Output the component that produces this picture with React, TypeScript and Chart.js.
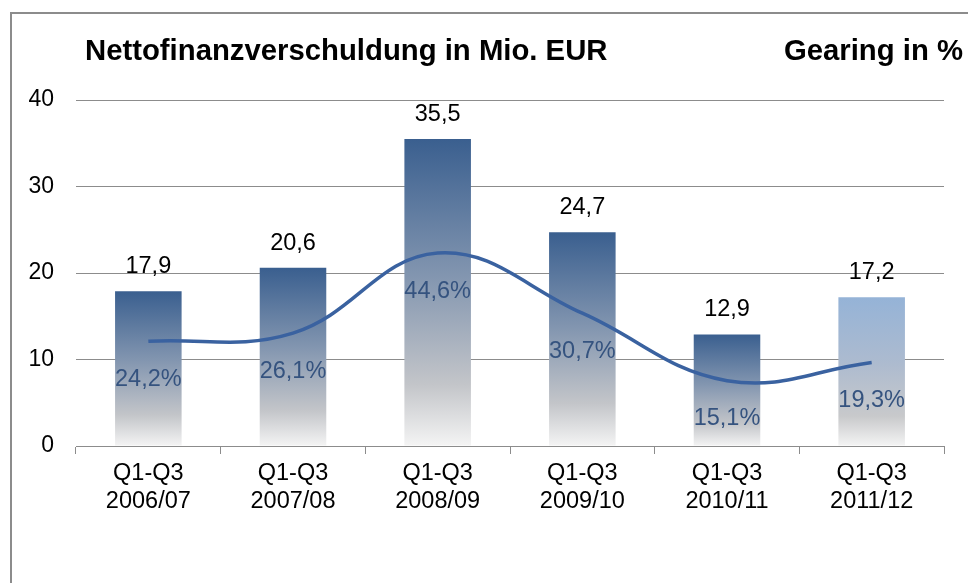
import React, { useEffect, useRef } from "react";
import { Chart, registerables } from "chart.js";

Chart.register(...registerables);

const categories: string[][] = [
  ["Q1-Q3", "2006/07"],
  ["Q1-Q3", "2007/08"],
  ["Q1-Q3", "2008/09"],
  ["Q1-Q3", "2009/10"],
  ["Q1-Q3", "2010/11"],
  ["Q1-Q3", "2011/12"],
];
const debtMioEur: number[] = [17.9, 20.6, 35.5, 24.7, 12.9, 17.2];
const gearingPct: number[] = [24.2, 26.1, 44.6, 30.7, 15.1, 19.3];
const yTicks: number[] = [0, 10, 20, 30, 40];
const leftTitle = "Nettofinanzverschuldung in Mio. EUR";
const rightTitle = "Gearing in %";

const FONT = "'Liberation Sans', Arial, sans-serif";

const fmt = (v: number) => v.toFixed(1).replace(".", ",");

const labelPlugin = {
  id: "valueLabels",
  afterDatasetsDraw(chart: any) {
    const ctx = chart.ctx;
    ctx.save();
    const barMeta = chart.getDatasetMeta(0);
    ctx.font = `23.5px ${FONT}`;
    ctx.textAlign = "center";
    ctx.textBaseline = "bottom";
    ctx.fillStyle = "#000000";
    barMeta.data.forEach((el: any, i: number) => {
      ctx.fillText(fmt(debtMioEur[i]), el.x, el.y - 13);
    });
    const lineMeta = chart.getDatasetMeta(1);
    ctx.fillStyle = "#35537f";
    ctx.textBaseline = "middle";
    lineMeta.data.forEach((el: any, i: number) => {
      ctx.fillText(fmt(gearingPct[i]) + "%", el.x, el.y + 38);
    });
    ctx.restore();
  },
};

export default function App() {
  const ref = useRef<HTMLCanvasElement | null>(null);

  useEffect(() => {
    if (!ref.current) return;
    const chart = new Chart(ref.current, {
      type: "bar",
      data: {
        labels: categories,
        datasets: [
          {
            type: "bar",
            data: debtMioEur,
            yAxisID: "y",
            order: 1,
            categoryPercentage: 1,
            barPercentage: 0.46,
            borderWidth: 0,
            backgroundColor: (c: any) => {
              const ch = c.chart;
              const sc = ch.scales && ch.scales.y;
              if (!ch.chartArea || !sc || c.type !== "data") return "#3a5f8f";
              const top = sc.getPixelForValue(debtMioEur[c.dataIndex]);
              const bot = sc.getPixelForValue(0);
              const g = ch.ctx.createLinearGradient(0, top, 0, bot);
              if (c.dataIndex === debtMioEur.length - 1) {
                g.addColorStop(0, "#95b3d7");
                g.addColorStop(0.45, "#adbbcf");
                g.addColorStop(0.8, "#c8c9cb");
                g.addColorStop(1, "#f4f4f4");
              } else {
                g.addColorStop(0, "#3a5f8f");
                g.addColorStop(0.45, "#8396b0");
                g.addColorStop(0.8, "#c3c5c9");
                g.addColorStop(1, "#f4f4f4");
              }
              return g;
            },
          },
          {
            type: "line",
            data: gearingPct,
            yAxisID: "y2",
            order: 0,
            borderColor: "#3a62a0",
            borderWidth: 3.5,
            pointRadius: 0,
            tension: 0.4,
            fill: false,
          },
        ] as any,
      },
      options: {
        animation: false,
        responsive: false,
        maintainAspectRatio: false,
        layout: { padding: { top: 100, right: 24, bottom: 0, left: 0 } },
        plugins: {
          legend: { display: false },
          tooltip: { enabled: false },
          title: { display: false },
        },
        scales: {
          x: {
            afterFit: (s: any) => {
              s.height = 137;
            },
            grid: {
              offset: true,
              drawOnChartArea: false,
              drawTicks: true,
              tickLength: 8,
              color: "#8c8c8c",
            },
            border: { color: "#8c8c8c" },
            ticks: {
              color: "#000000",
              padding: 5,
              maxRotation: 0,
              font: { family: FONT, size: 23.5, lineHeight: 1.2 },
            },
          },
          y: {
            min: 0,
            max: 40,
            afterFit: (s: any) => {
              s.width = 76;
            },
            afterBuildTicks: (s: any) => {
              s.ticks = yTicks.map((v) => ({ value: v }));
            },
            grid: { color: "#8c8c8c", drawTicks: false },
            border: { display: false },
            ticks: {
              color: "#000000",
              padding: 22,
              font: { family: FONT, size: 23 },
            },
          },
          y2: {
            display: false,
            min: 0,
            max: 80,
          },
        },
      },
      plugins: [labelPlugin],
    } as any);
    return () => chart.destroy();
  }, []);

  return (
    <div style={{ position: "absolute", left: 0, top: 0, width: 968, height: 583, overflow: "hidden", background: "#fff" }}>
      <div
        style={{
          position: "absolute",
          left: 10,
          top: 12,
          width: 1000,
          height: 600,
          borderLeft: "2px solid #8c8c8c",
          borderTop: "2px solid #8c8c8c",
        }}
      />
      <canvas ref={ref} width={968} height={583} style={{ position: "absolute", left: 0, top: 0 }} />
      <div
        style={{
          position: "absolute",
          left: 85,
          top: 32,
          fontFamily: FONT,
          fontWeight: "bold",
          fontSize: 29.3,
          lineHeight: "36px",
          color: "#000",
          whiteSpace: "nowrap",
        }}
      >
        {leftTitle}
      </div>
      <div
        style={{
          position: "absolute",
          right: 5,
          top: 32,
          fontFamily: FONT,
          fontWeight: "bold",
          fontSize: 29.3,
          lineHeight: "36px",
          color: "#000",
          whiteSpace: "nowrap",
        }}
      >
        {rightTitle}
      </div>
    </div>
  );
}
